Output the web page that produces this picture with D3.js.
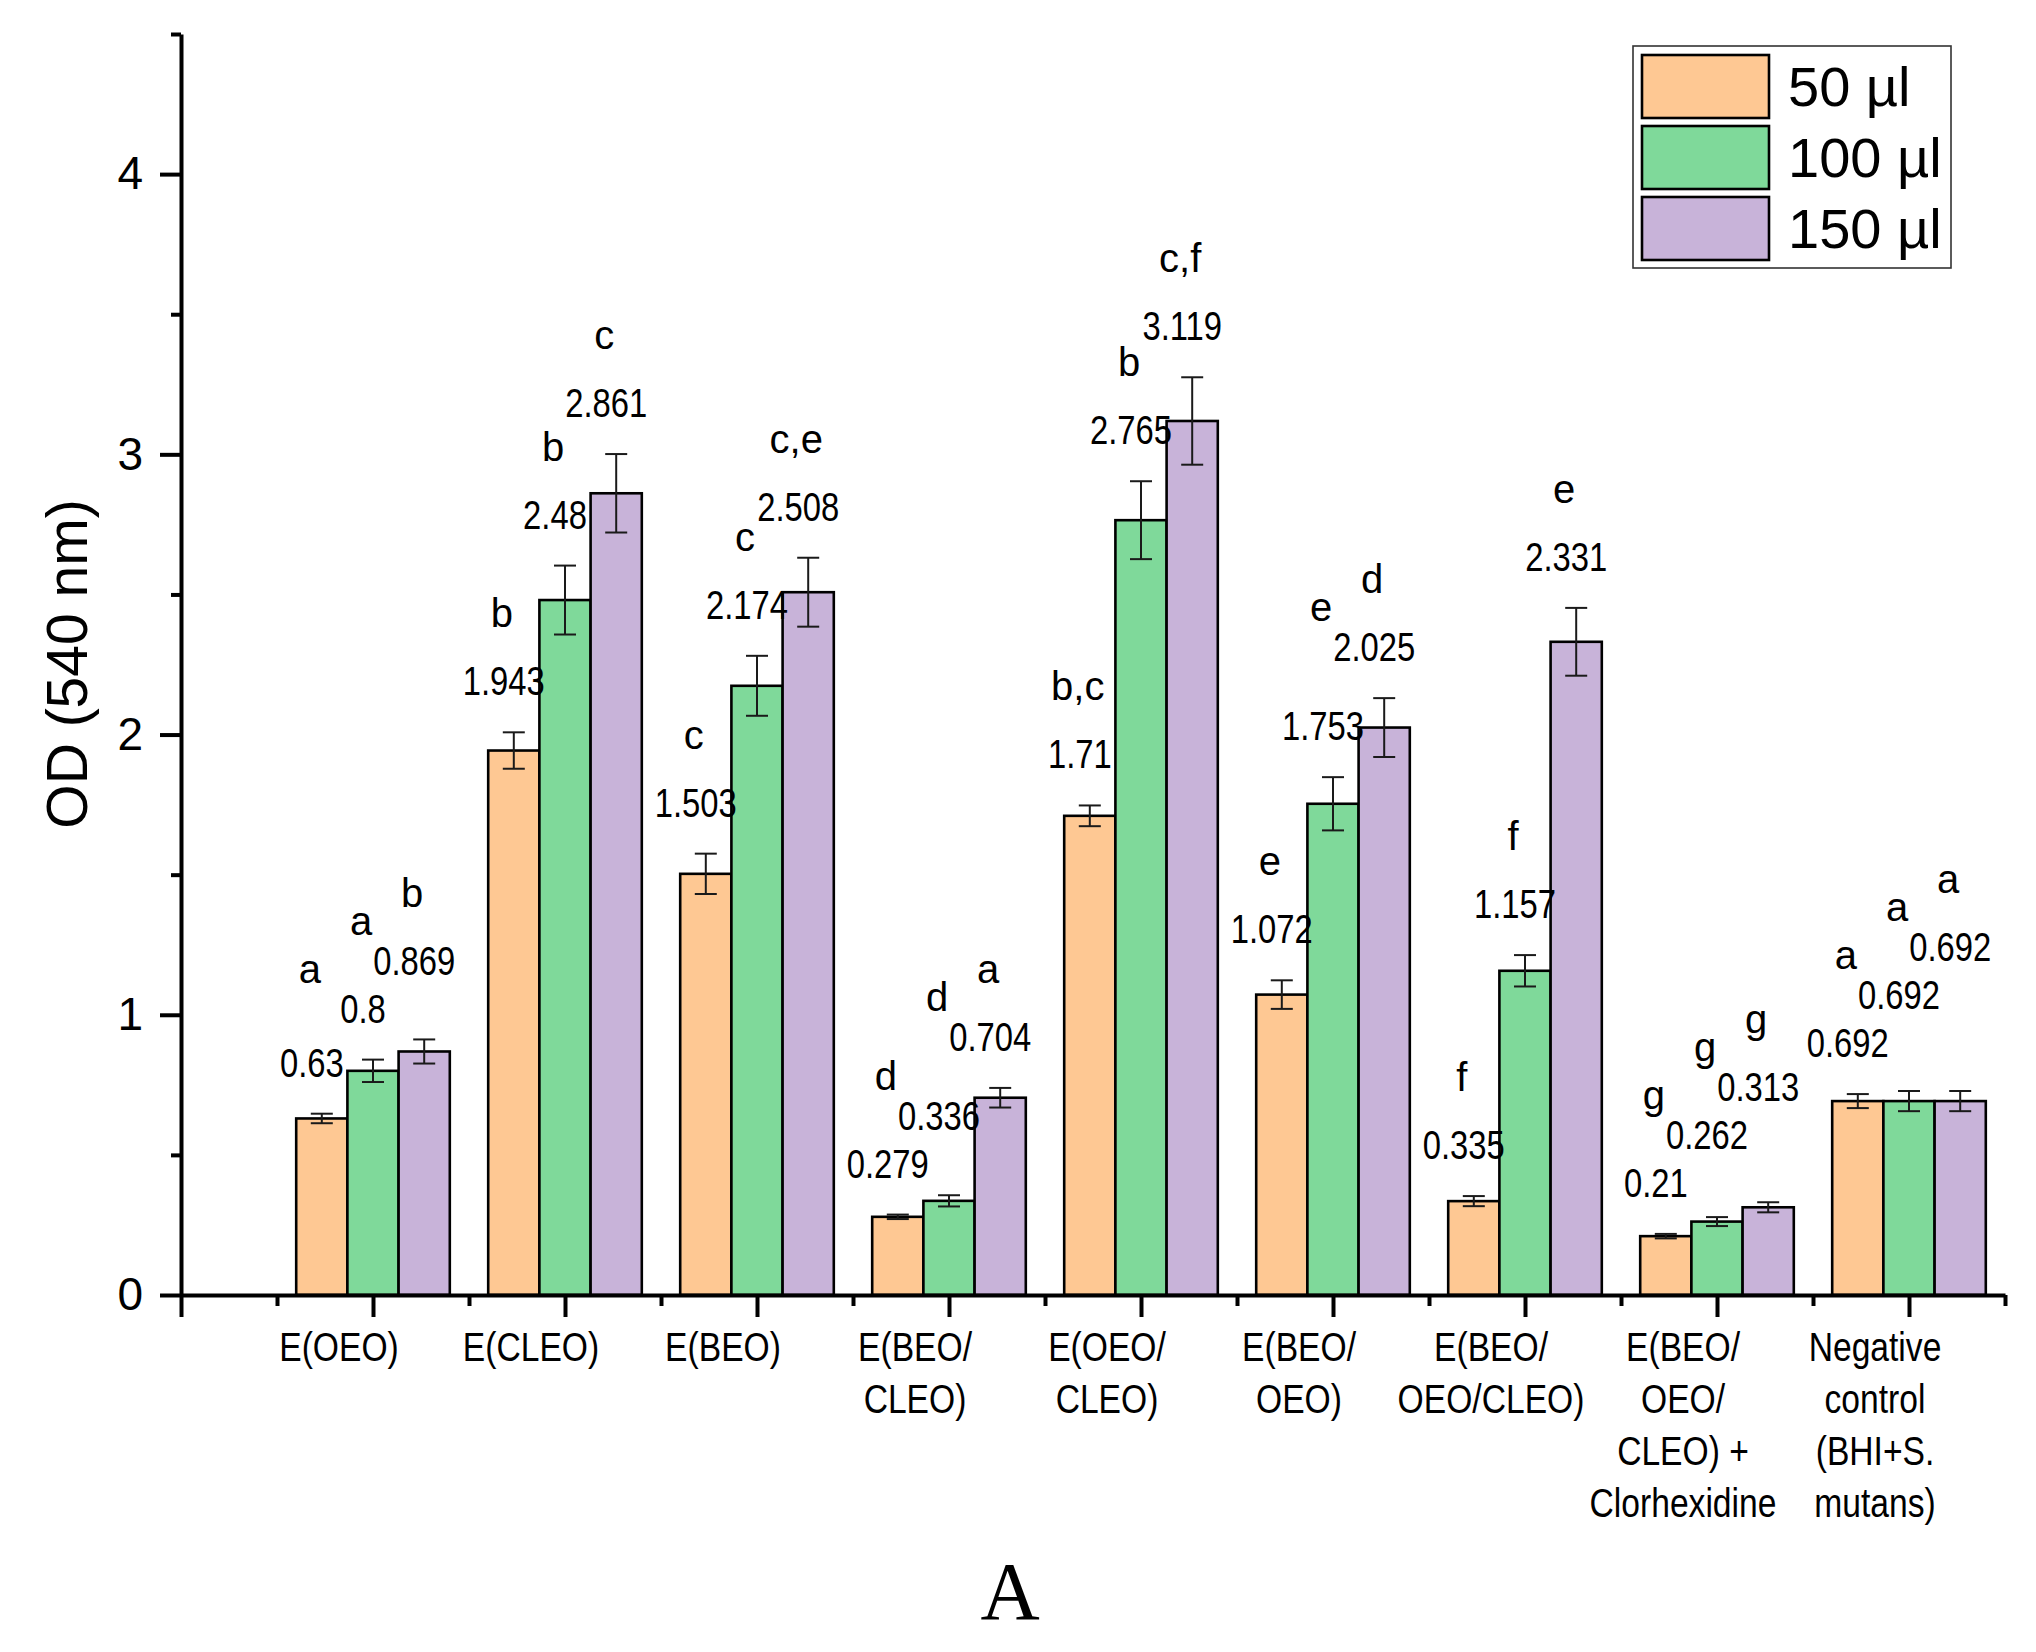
<!DOCTYPE html>
<html>
<head>
<meta charset="utf-8">
<script src="https://cdnjs.cloudflare.com/ajax/libs/d3/7.8.5/d3.min.js"></script>
<style>
    body { margin: 0; background: #fff; }
    .sans { font-family: "Liberation Sans", Arial, sans-serif; }
</style>
</head>
<body>
<div id="chart"></div>
<script>

// Categories, split in lines like the figure
const categories = [
    ["E(OEO)"],
    ["E(CLEO)"],
    ["E(BEO)"],
    ["E(BEO/", "CLEO)"],
    ["E(OEO/", "CLEO)"],
    ["E(BEO/", "OEO)"],
    ["E(BEO/", "OEO/CLEO)"],
    ["E(BEO/", "OEO/", "CLEO) +", "Clorhexidine"],
    ["Negative", "control", "(BHI+S.", "mutans)"]
];
const seriesNames = ["50 µl", "100 µl", "150 µl"];

// OD values per volume
const values50  = [0.63, 1.943, 1.503, 0.279, 1.71, 1.072, 0.335, 0.21, 0.692];
const values100 = [0.8, 2.48, 2.174, 0.336, 2.765, 1.753, 1.157, 0.262, 0.692];
const values150 = [0.869, 2.861, 2.508, 0.704, 3.119, 2.025, 2.331, 0.313, 0.692];

// error bars
const errors50  = [0.017, 0.065, 0.072, 0.008, 0.037, 0.051, 0.018, 0.008, 0.025];
const errors100 = [0.04, 0.123, 0.107, 0.02, 0.139, 0.095, 0.056, 0.016, 0.036];
const errors150 = [0.043, 0.14, 0.123, 0.035, 0.156, 0.105, 0.121, 0.018, 0.036];

// significance letters
const letters50  = ["a", "b", "c", "d", "b,c", "e", "f", "g", "a"];
const letters100 = ["a", "b", "c", "d", "b", "e", "f", "g", "a"];
const letters150 = ["b", "c", "c,e", "a", "c,f", "d", "e", "g", "a"];

const yTicks = [0, 1, 2, 3, 4];
const yMinorTicks = [0.5, 1.5, 2.5, 3.5, 4.5];

// no narrow face installed, so squeeze the regular one
const NARROW = 0.82;


class groupedBars {

    constructor(parentElement) {
        this.parentElement = parentElement;
        this.displayData = [];
        this.initVis();
    }

    initVis() {
        let vis = this;

        vis.width = 2036;
        vis.height = 1652;

        vis.svg = d3.select("#" + vis.parentElement).append("svg")
            .attr("width", vis.width)
            .attr("height", vis.height);

        vis.svg.append("rect")
            .attr("width", vis.width)
            .attr("height", vis.height)
            .attr("fill", "#fff");

        // category positions 1..9, axis runs 0..9.5
        vis.x = d3.scaleLinear()
            .domain([0, categories.length + 0.5])
            .range([181, 2005]);

        vis.y = d3.scaleLinear()
            .domain([0, 4.5])
            .range([1295, 34]);

        // offset of each series inside a group, in category units
        vis.inner = d3.scaleBand()
            .domain(d3.range(seriesNames.length))
            .range([-0.4, 0.4]);

        vis.color = d3.scaleOrdinal()
            .domain(d3.range(seriesNames.length))
            .range(["#FEC893", "#7FD99A", "#C8B3D9"]);

        vis.wrangleData();
    }

    wrangleData() {
        let vis = this;

        let vals = [values50, values100, values150];
        let errs = [errors50, errors100, errors150];
        let lets = [letters50, letters100, letters150];

        vis.displayData = [];
        categories.forEach((c, i) => {
            seriesNames.forEach((s, j) => {
                vis.displayData.push({
                    cat: i + 1,
                    s: j,
                    value: vals[j][i],
                    err: errs[j][i],
                    letter: lets[j][i]
                });
            });
        });

        vis.updateVis();
    }

    updateVis() {
        let vis = this;

        let bw = vis.x(vis.inner.bandwidth()) - vis.x(0);
        let barX = d => vis.x(d.cat + vis.inner(d.s));
        let barC = d => barX(d) + bw / 2;

        // axes
        let yAxis = d3.axisLeft(vis.y)
            .tickValues(yTicks)
            .tickSize(21)
            .tickSizeOuter(0)
            .tickPadding(17)
            .tickFormat(d3.format("d"));

        let yAxisMinor = d3.axisLeft(vis.y)
            .tickValues(yMinorTicks)
            .tickSize(10)
            .tickFormat("");

        let xAxis = d3.axisBottom(vis.x)
            .tickValues(d3.range(0, categories.length + 1))
            .tickSize(22)
            .tickSizeOuter(0)
            .tickFormat("");

        let xAxisMinor = d3.axisBottom(vis.x)
            .tickValues(d3.range(0.5, categories.length + 1, 1))
            .tickSize(11)
            .tickFormat("");

        // bars
        vis.svg.append("g").selectAll("rect")
            .data(vis.displayData)
            .enter().append("rect")
            .attr("x", barX)
            .attr("width", bw)
            .attr("y", d => vis.y(d.value))
            .attr("height", d => vis.y(0) - vis.y(d.value))
            .attr("fill", d => vis.color(d.s))
            .attr("stroke", "#000")
            .attr("stroke-width", 2.6);

        // error bars
        let eb = vis.svg.append("g")
            .attr("stroke", "#1a1a1a")
            .attr("stroke-width", 2);

        eb.selectAll("line.v")
            .data(vis.displayData)
            .enter().append("line")
            .attr("class", "v")
            .attr("x1", barC).attr("x2", barC)
            .attr("y1", d => vis.y(d.value - d.err))
            .attr("y2", d => vis.y(d.value + d.err));

        [-1, 1].forEach(k => {
            eb.selectAll("line.c" + (k + 1))
                .data(vis.displayData)
                .enter().append("line")
                .attr("class", "c" + (k + 1))
                .attr("x1", d => barC(d) - 11).attr("x2", d => barC(d) + 11)
                .attr("y1", d => vis.y(d.value + k * d.err))
                .attr("y2", d => vis.y(d.value + k * d.err));
        });

        vis.svg.append("g")
            .attr("transform", "translate(0," + vis.y(0) + ")")
            .call(xAxis);
        vis.svg.append("g")
            .attr("transform", "translate(0," + vis.y(0) + ")")
            .call(xAxisMinor)
            .select(".domain").remove();

        let gy = vis.svg.append("g")
            .attr("transform", "translate(" + vis.x(0) + ",0)")
            .call(yAxis);
        vis.svg.append("g")
            .attr("transform", "translate(" + vis.x(0) + ",0)")
            .call(yAxisMinor)
            .select(".domain").remove();

        vis.svg.selectAll(".domain, .tick line")
            .attr("stroke", "#000")
            .attr("stroke-width", 4);

        gy.selectAll(".tick text")
            .attr("class", "sans")
            .attr("font-size", 46)
            .attr("fill", "#000");

        // category labels (sit a little left of their tick, as in the figure)
        let cl = vis.svg.append("g")
            .attr("class", "sans")
            .attr("font-size", 41)
            .attr("text-anchor", "middle");

        categories.forEach((lines, i) => {
            let t = cl.append("text")
                .attr("transform", "translate(" + (vis.x(i + 1) - 34) + ",1361) scale(" + NARROW + ",1)");
            lines.forEach((line, k) => {
                t.append("tspan")
                    .attr("x", 0)
                    .attr("dy", k === 0 ? 0 : 52)
                    .text(line);
            });
        });

        // value labels, stepped upward inside a group so they do not collide
        let byCat = d3.group(vis.displayData, d => d.cat);
        byCat.forEach(rows => {
            let prev = null;
            rows.forEach(d => {
                let base = vis.y(d.value + d.err) - 37;
                if (prev !== null && base > prev - 48) base = prev - 48;
                d.labelY = base;
                prev = base;
            });
            // letters sit above their label, lifted over the next label when they share its line
            rows.forEach((d, j) => {
                let ly = d.labelY - 68;
                if (j < rows.length - 1) {
                    let next = rows[j + 1].labelY;
                    if (ly > next - 40 && ly - 28 < next) ly = next - 40;
                }
                d.letterY = ly;
            });
        });

        vis.svg.append("g").selectAll("text")
            .data(vis.displayData)
            .enter().append("text")
            .attr("class", "sans")
            .attr("font-size", 40)
            .attr("text-anchor", "middle")
            .attr("transform", d => "translate(" + (barC(d) - 10) + "," + d.labelY + ") scale(" + NARROW + ",1)")
            .text(d => String(d.value));

        vis.svg.append("g").selectAll("text")
            .data(vis.displayData)
            .enter().append("text")
            .attr("class", "sans")
            .attr("font-size", 40)
            .attr("text-anchor", "middle")
            .attr("x", d => barC(d) - 12)
            .attr("y", d => d.letterY)
            .text(d => d.letter);

        // y axis title
        vis.svg.append("text")
            .attr("class", "sans")
            .attr("font-size", 57)
            .attr("text-anchor", "middle")
            .attr("transform", "translate(67,664) rotate(-90)")
            .attr("dy", "0.35em")
            .text("OD (540 nm)");

        // panel letter
        vis.svg.append("text")
            .attr("font-family", "'Liberation Serif', 'Times New Roman', serif")
            .attr("font-size", 82)
            .attr("text-anchor", "middle")
            .attr("x", 1010)
            .attr("y", 1619)
            .text("A");

        // legend
        let lg = vis.svg.append("g");
        lg.append("rect")
            .attr("x", 1633).attr("y", 46)
            .attr("width", 318).attr("height", 222)
            .attr("fill", "#fff")
            .attr("stroke", "#333")
            .attr("stroke-width", 1.6);

        seriesNames.forEach((name, j) => {
            lg.append("rect")
                .attr("x", 1642).attr("y", 55 + j * 71)
                .attr("width", 127).attr("height", 63)
                .attr("fill", vis.color(j))
                .attr("stroke", "#000")
                .attr("stroke-width", 2.6);
            lg.append("text")
                .attr("class", "sans")
                .attr("font-size", 56)
                .attr("x", 1788)
                .attr("y", 55 + j * 71 + 31.5)
                .attr("dy", "0.35em")
                .text(name);
        });
    }
}

new groupedBars("chart");
</script>
</body>
</html>
